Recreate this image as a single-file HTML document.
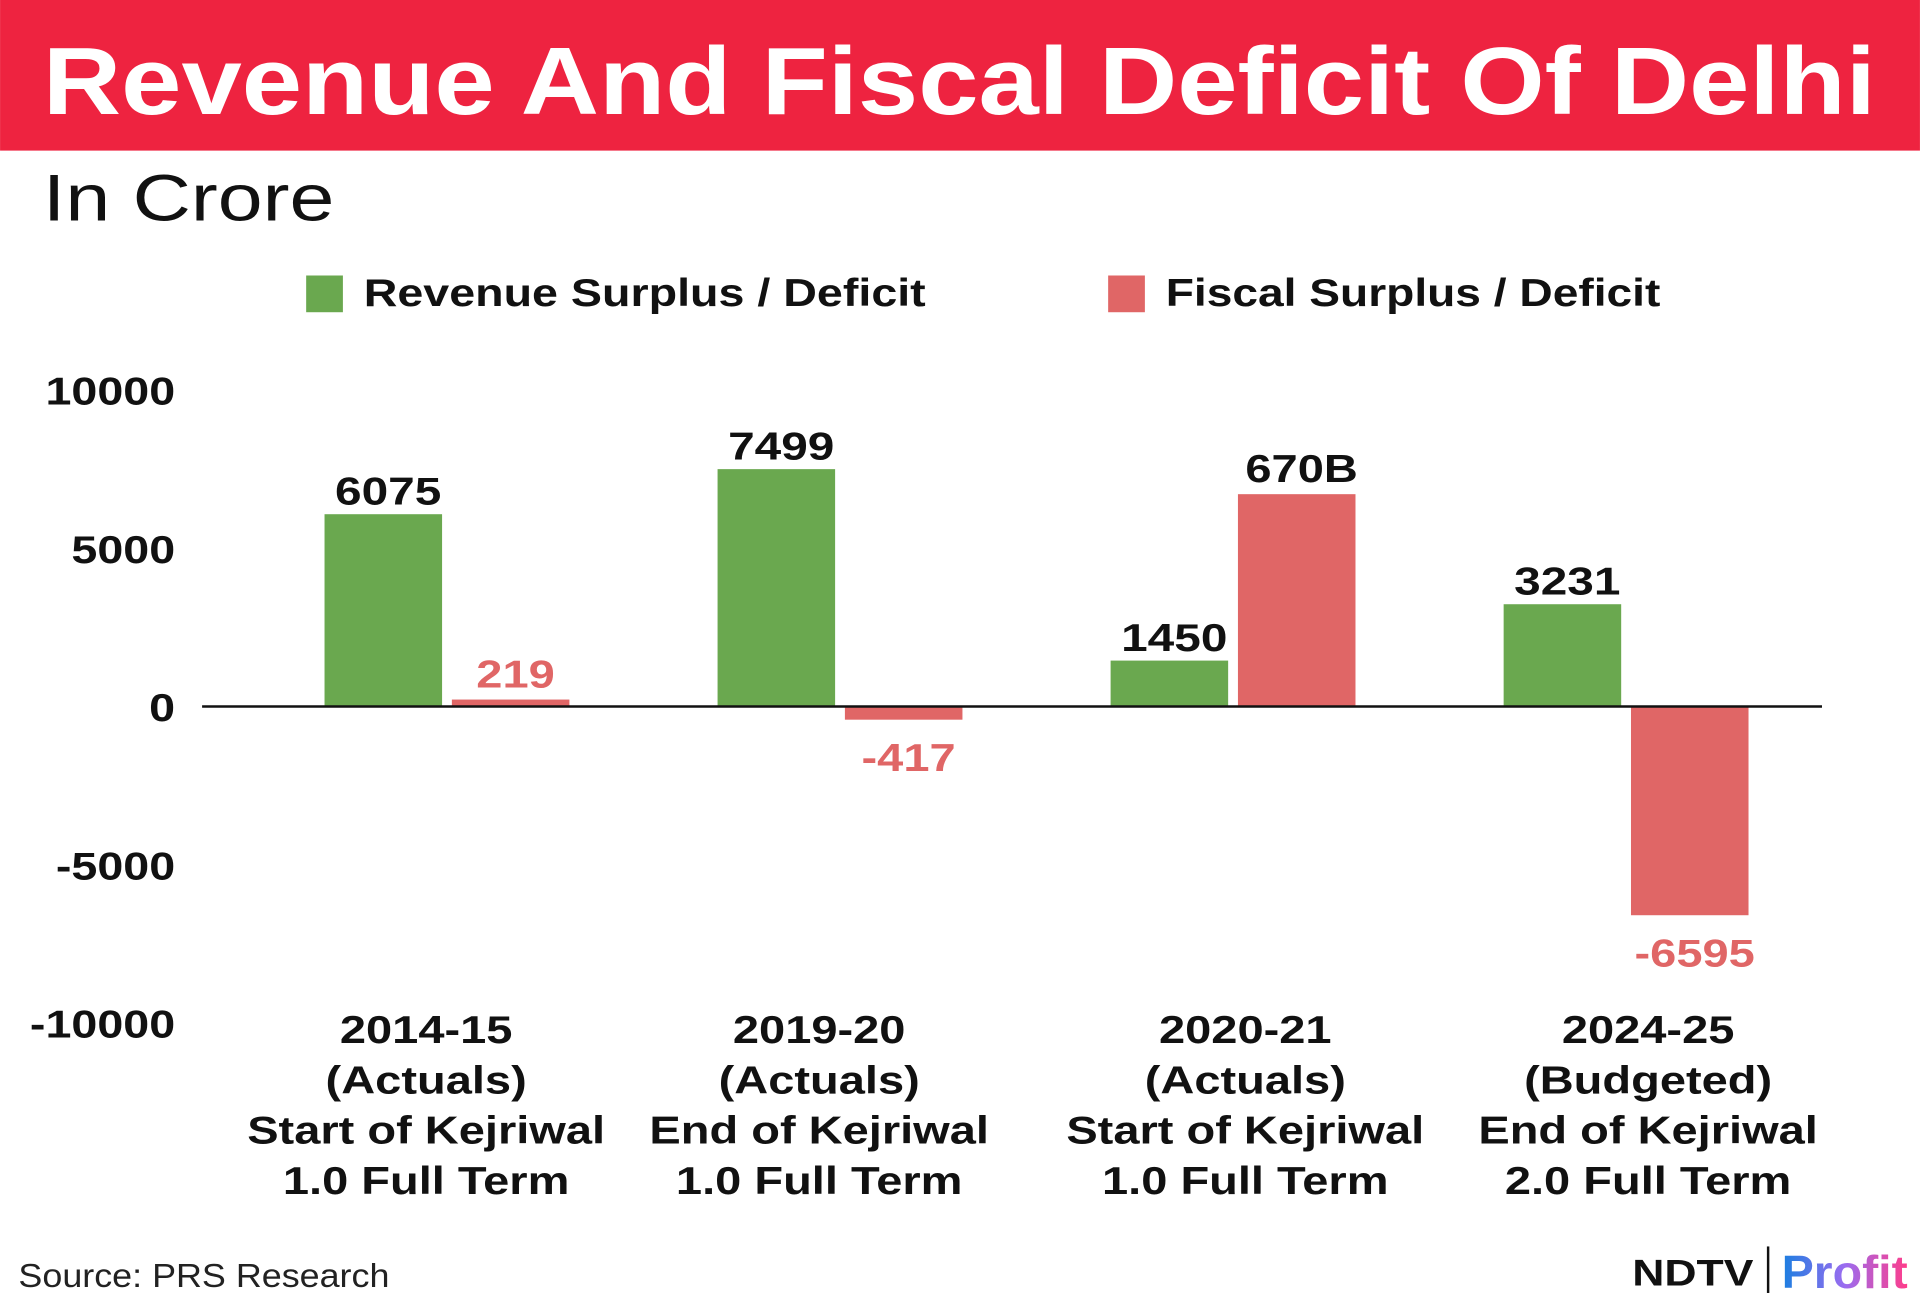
<!DOCTYPE html>
<html><head><meta charset="utf-8"><style>
html,body{margin:0;padding:0;background:#fff;}
svg{display:block;font-family:"Liberation Sans",sans-serif;}
</style></head><body>
<svg id="chart" width="1920" height="1304" viewBox="0 0 1568 1065" xmlns="http://www.w3.org/2000/svg">
<rect x="0" y="0" width="1568" height="123" fill="#EE2340"/>
<text x="35" y="93" font-size="78" font-weight="bold" fill="#fff" textLength="1497" lengthAdjust="spacingAndGlyphs">Revenue And Fiscal Deficit Of Delhi</text>
<text x="35" y="180" font-size="54" fill="#111" textLength="238" lengthAdjust="spacingAndGlyphs">In Crore</text>
<g>
<rect x="250" y="225" width="30" height="30" fill="#6AA84F"/>
<text x="297" y="250" font-size="32" font-weight="bold" fill="#111" textLength="459" lengthAdjust="spacingAndGlyphs">Revenue Surplus / Deficit</text>
<rect x="905" y="225" width="30" height="30" fill="#E06666"/>
<text x="952" y="250" font-size="32" font-weight="bold" fill="#111" textLength="404" lengthAdjust="spacingAndGlyphs">Fiscal Surplus / Deficit</text>
</g>
<g id="plot"></g>
<text x="15" y="1051" font-size="27" fill="#222" textLength="303" lengthAdjust="spacingAndGlyphs">Source: PRS Research</text>
<g>
<defs><linearGradient id="pg" x1="0" x2="1" y1="0" y2="0"><stop offset="0" stop-color="#1a7fe0"/><stop offset="0.5" stop-color="#9a6cf0"/><stop offset="1" stop-color="#ff3d8a"/></linearGradient></defs>
<text x="1333" y="1050" font-size="30" font-weight="bold" fill="#111" textLength="99" lengthAdjust="spacingAndGlyphs">NDTV</text>
<rect x="1443" y="1018" width="2" height="38" fill="#111"/>
<text x="1455" y="1052" font-size="38" font-weight="bold" fill="url(#pg)" textLength="103" lengthAdjust="spacingAndGlyphs">Profit</text>
</g>
</svg>
<script>
const categories = [["2014-15","(Actuals)","Start of Kejriwal","1.0 Full Term"],["2019-20","(Actuals)","End of Kejriwal","1.0 Full Term"],["2020-21","(Actuals)","Start of Kejriwal","1.0 Full Term"],["2024-25","(Budgeted)","End of Kejriwal","2.0 Full Term"]];
const revenueValues = [6075, 7499, 1450, 3231];
const fiscalValues = [219, -417, 6708, -6595];
const fiscalLabels = ["219", "-417", "670B", "-6595"];
const yTicks = [10000, 5000, 0, -5000, -10000];

const NS = "http://www.w3.org/2000/svg";
const plot = document.getElementById('plot');
const y = v => 577 - v * 0.02585;
const groupX = i => 265 + i * 321;
const BW = 96;
const labelShift = [83, 83, 110, 118];
function mk(tag, attrs, txt){const e=document.createElementNS(NS,tag);for(const k in attrs)e.setAttribute(k,attrs[k]);if(txt!==undefined)e.textContent=txt;plot.appendChild(e);return e;}
function widen(e, f){const l=e.getComputedTextLength();e.setAttribute('textLength',(l*f).toFixed(1));e.setAttribute('lengthAdjust','spacingAndGlyphs');}

yTicks.forEach(t=>{
  const e = mk('text',{x:143,y:y(t)+12,'text-anchor':'end','font-size':32,'font-weight':'bold',fill:'#111'},String(t));
  
  
  widen(e,1.19);
});
categories.forEach((c,i)=>{
  const gx = groupX(i);
  const rv = revenueValues[i], fv = fiscalValues[i];
  const b1 = mk('rect',{x:gx,y:Math.min(y(rv),y(0)),width:BW,height:Math.abs(y(rv)-y(0)),fill:'#6AA84F'});
  
  
  const l1 = mk('text',{x:gx+BW/2+4,y:rv>=0?y(rv)-8:y(rv)+38,'text-anchor':'middle','font-size':32,'font-weight':'bold',fill:'#111'},String(rv));
  
  
  widen(l1,1.22);
  const fx = gx + 104;
  const b2 = mk('rect',{x:fx,y:Math.min(y(fv),y(0)),width:BW,height:Math.abs(y(fv)-y(0)),fill:'#E06666'});
  
  
  const l2 = mk('text',{x:fx+BW/2+4,y:fv>=0?y(fv)-10:y(fv)+42,'text-anchor':'middle','font-size':32,'font-weight':'bold',fill:i===2?'#111':'#E06666'},fiscalLabels[i]);
  
  
  widen(l2,1.2);
  const cx = gx + labelShift[i];
  c.forEach((line,j)=>{
    const t = mk('text',{x:cx,y:852+j*41,'text-anchor':'middle','font-size':32,'font-weight':'bold',fill:'#111'},line);
    
    
    widen(t,1.2);
  });
});
const zl = mk('line',{x1:165,x2:1488,y1:y(0),y2:y(0),stroke:'#111','stroke-width':2});


</script>
</body></html>
